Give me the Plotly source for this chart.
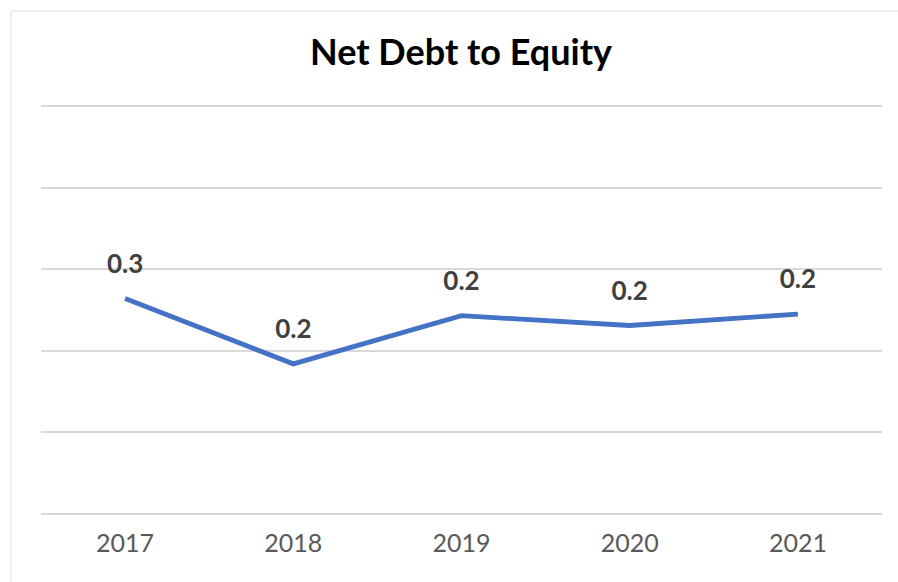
import plotly.graph_objects as go

years = ["2017", "2018", "2019", "2020", "2021"]
ratio = [0.264, 0.184, 0.243, 0.231, 0.245]
label_text = [f"{v:.1f}" for v in ratio]

W, H = 898, 582
ml, mr, mt, mb = 41, 16, 102, 68
pw, ph = W - ml - mr, H - mt - mb
FONT = "Lato, Open Sans, sans-serif"

fig = go.Figure()
fig.add_trace(go.Scatter(
    x=years, y=ratio, mode="lines",
    line=dict(color="#4472C4", width=4.8),
    hoverinfo="skip", showlegend=False,
))
# data labels (transparent marker gives the vertical offset)
fig.add_trace(go.Scatter(
    x=years, y=ratio, mode="markers+text",
    text=["<b>" + t + "</b>" for t in label_text], textposition="top center",
    textfont=dict(family=FONT, size=26, color="#404040"),
    marker=dict(size=29, color="rgba(0,0,0,0)"),
    hoverinfo="skip", showlegend=False, cliponaxis=False,
))

# outer chart border
fig.add_shape(type="rect", xref="paper", yref="paper",
              x0=(11 - ml) / pw, x1=(W + 20 - ml) / pw,
              y0=-(20 + mb) / ph, y1=(H - mb - 11) / ph,
              line=dict(color="#eeeeee", width=2), fillcolor="rgba(0,0,0,0)", layer="below")

fig.update_layout(
    width=W, height=H,
    margin=dict(l=ml, r=mr, t=mt, b=mb),
    paper_bgcolor="white", plot_bgcolor="white",
    title=dict(text="<b>Net Debt to Equity</b>", x=461 / W, xanchor="center",
               y=1 - 52 / H, yanchor="middle",
               font=dict(family=FONT, size=36, color="#000000")),
    xaxis=dict(type="category", range=[-0.5, 4.5], showgrid=False, zeroline=False,
               showline=False, ticks="", ticklabelstandoff=12,
               tickfont=dict(family=FONT, size=25, color="#595959")),
    yaxis=dict(range=[0, 0.5049], tickvals=[0.1, 0.2, 0.3, 0.4, 0.5], showgrid=True,
               gridcolor="#d9d9d9", gridwidth=2,
               showticklabels=False, zeroline=True, zerolinecolor="#d9d9d9", zerolinewidth=2,
               showline=False, ticks=""),
)
fig.write_html("out.html")
